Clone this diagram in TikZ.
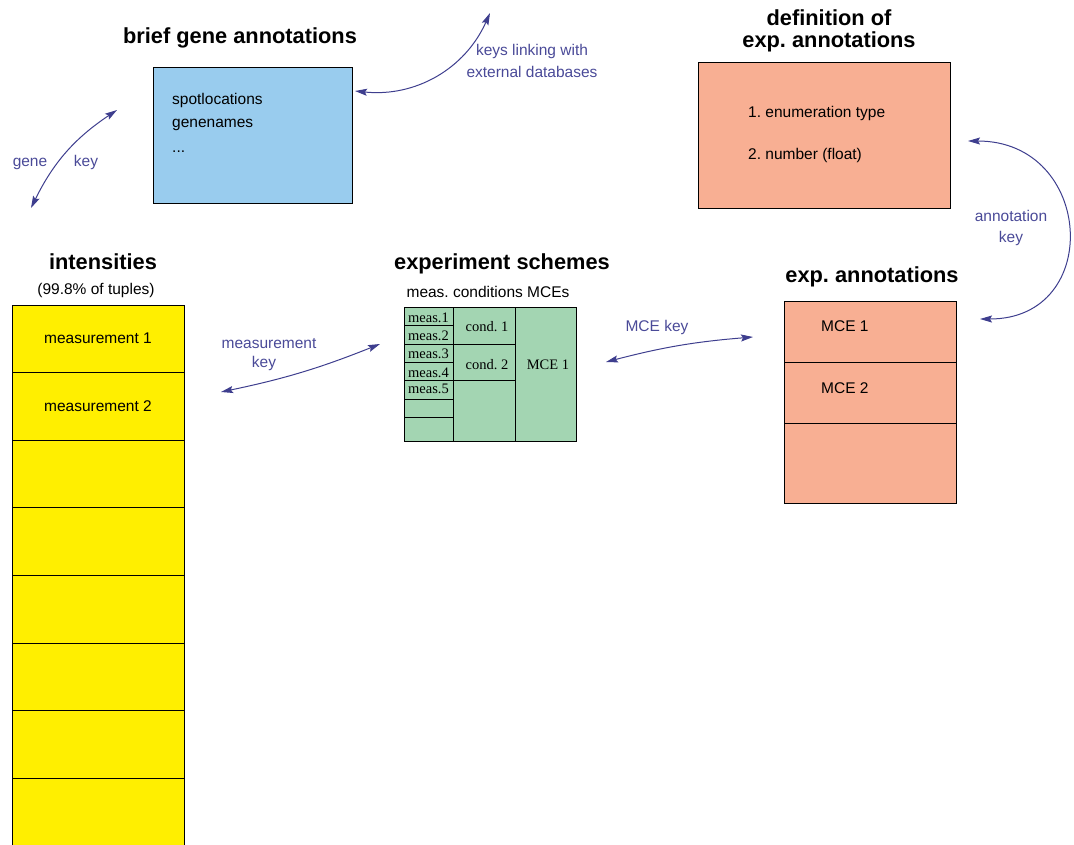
\documentclass[tikz,border=0pt]{standalone}
\usepackage{fontspec}
\setmainfont{Liberation Sans}
\newfontfamily\cellfont{Liberation Serif}
\usetikzlibrary{arrows.meta}
\definecolor{intyellow}{HTML}{FFEF00}
\definecolor{genblue}{HTML}{99CCEE}
\definecolor{annsalmon}{HTML}{F8AF93}
\definecolor{schgreen}{HTML}{A3D5B2}
\definecolor{keyblue}{HTML}{3E3E8E}
\definecolor{keytext}{HTML}{4A4A98}
\frenchspacing
\begin{document}
\begin{tikzpicture}[x=1pt,y=-1pt,
  box/.style={draw=black, line width=0.9pt, inner sep=0pt, outer sep=0pt, rectangle},
  title/.style={font=\fontsize{21.8}{24}\selectfont\bfseries, anchor=base, inner sep=0pt},
  txt/.style={font=\fontsize{15.5}{18}\selectfont, anchor=base west, inner sep=0pt},
  ctxt/.style={font=\fontsize{15.5}{18}\selectfont, anchor=base, inner sep=0pt},
  celltxt/.style={font=\cellfont\fontsize{14.5}{16}\selectfont, anchor=base, inner sep=0pt},
  keylabel/.style={font=\fontsize{15.5}{18}\selectfont, text=keytext, anchor=base, inner sep=0pt},
  tip/.tip={Stealth[length=12pt,width=7pt,inset=2pt]},
  keyarrow/.style={draw=keyblue, line width=1pt, tip-tip},
]
\useasboundingbox (0,0) rectangle (1074,844);

% ---- intensities table ----
\node[title] (inttitle) at (103,269) {intensities};
\node[ctxt] (intsub) at (96,294) {(99.8\% of tuples)};
\foreach \i in {1,...,8} {
  \pgfmathsetmacro\rowtop{305+(\i-1)*67.6}
  \node[box, fill=intyellow, minimum width=172pt, minimum height=67.6pt, anchor=north]
    (introw\i) at (98,\rowtop) {};
}
\node[ctxt] (m1) at (98,343) {measurement 1};
\node[ctxt] (m2) at (98,411) {measurement 2};

% ---- brief gene annotations ----
\node[title] (genetitle) at (240,43) {brief gene annotations};
\node[box, fill=genblue, minimum width=199pt, minimum height=136pt] (genebox) at (252.5,135) {};
\node[txt] (spot) at (172,104) {spotlocations};
\node[txt] (gnames) at (172,127) {genenames};
\node[txt] (gdots) at (172,152) {...};

% ---- definition of exp. annotations ----
\node[title] (deftitleA) at (829,25) {definition of};
\node[title] (deftitleB) at (829,47) {exp. annotations};
\node[box, fill=annsalmon, minimum width=252pt, minimum height=146pt] (defbox) at (824,135) {};
\node[txt] (enumt) at (748,117) {1. enumeration type};
\node[txt] (numt) at (748,159) {2. number (float)};

% ---- exp. annotations ----
\node[title] (anntitle) at (872,282) {exp. annotations};
\node[box, fill=annsalmon, minimum width=172pt, minimum height=61pt] (annrow1) at (870,331.5) {};
\node[box, fill=annsalmon, minimum width=172pt, minimum height=61pt] (annrow2) at (870,392.5) {};
\node[box, fill=annsalmon, minimum width=172pt, minimum height=80pt] (annrow3) at (870,463) {};
\node[txt] (mceA) at (821,331) {MCE 1};
\node[txt] (mceB) at (821,393) {MCE 2};

% ---- experiment schemes ----
\node[title] (schtitle) at (502,269) {experiment schemes};
\node[ctxt] (schsub) at (488,297) {meas. conditions MCEs};
\node[box, fill=schgreen, minimum width=49pt, minimum height=18.5pt] (c1r1) at (428.5,316.25) {};
\node[box, fill=schgreen, minimum width=49pt, minimum height=18.5pt] (c1r2) at (428.5,334.75) {};
\node[box, fill=schgreen, minimum width=49pt, minimum height=18pt] (c1r3) at (428.5,353) {};
\node[box, fill=schgreen, minimum width=49pt, minimum height=18pt] (c1r4) at (428.5,371) {};
\node[box, fill=schgreen, minimum width=49pt, minimum height=19pt] (c1r5) at (428.5,389.5) {};
\node[box, fill=schgreen, minimum width=49pt, minimum height=18pt] (c1r6) at (428.5,408) {};
\node[box, fill=schgreen, minimum width=49pt, minimum height=24pt] (c1r7) at (428.5,429) {};
\node[box, fill=schgreen, minimum width=62pt, minimum height=37pt] (c2r1) at (484,325.5) {};
\node[box, fill=schgreen, minimum width=62pt, minimum height=36pt] (c2r2) at (484,362) {};
\node[box, fill=schgreen, minimum width=62pt, minimum height=61pt] (c2r3) at (484,410.5) {};
\node[box, fill=schgreen, minimum width=61pt, minimum height=134pt] (c3r1) at (545.5,374) {};
\node[celltxt] (ms1) at (428.5,322) {meas.1};
\node[celltxt] (ms2) at (428.5,340) {meas.2};
\node[celltxt] (ms3) at (428.5,358) {meas.3};
\node[celltxt] (ms4) at (428.5,377) {meas.4};
\node[celltxt] (ms5) at (428.5,393) {meas.5};
\node[celltxt] (cd1) at (487,331) {cond. 1};
\node[celltxt] (cd2) at (487,369) {cond. 2};
\node[celltxt] (mcecell) at (548,369) {MCE 1};

% ---- key connectors ----
\coordinate (gkA) at (117,110);
\coordinate (gkB) at (31,208);
\draw[keyarrow] (gkA) to[bend right=15] (gkB);
\node[keylabel] (gklabA) at (30,166) {gene};
\node[keylabel] (gklabB) at (86,166) {key};

\coordinate (exA) at (355,91);
\coordinate (exB) at (490,13);
\draw[keyarrow] (exA) to[bend right=36] (exB);
\node[keylabel] (exlabA) at (532,55) {keys linking with};
\node[keylabel] (exlabB) at (532,77) {external databases};

\coordinate (akA) at (968,141);
\coordinate (akB) at (980,319);
\draw[keyarrow] (akA) .. controls (1094,141) and (1104,319) .. (akB);
\node[keylabel] (aklabA) at (1011,221) {annotation};
\node[keylabel] (aklabB) at (1011,242) {key};

\coordinate (mkA) at (221,392);
\coordinate (mkB) at (380,344);
\draw[keyarrow] (mkA) to[bend right=5] (mkB);
\node[keylabel] (mklabA) at (269,348) {measurement};
\node[keylabel] (mklabB) at (264,367) {key};

\coordinate (ckA) at (606,362);
\coordinate (ckB) at (753,337);
\draw[keyarrow] (ckA) to[bend left=5] (ckB);
\node[keylabel] (cklab) at (657,331) {MCE key};
\end{tikzpicture}
\end{document}
